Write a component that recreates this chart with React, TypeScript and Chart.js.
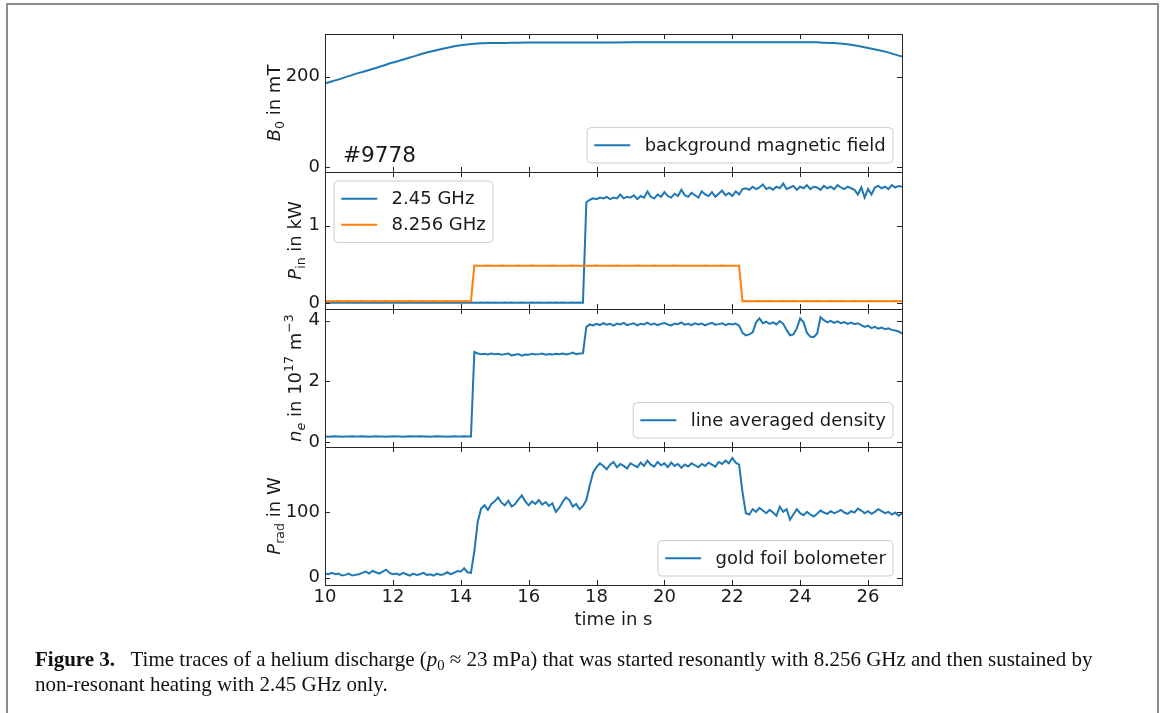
import React, { useEffect, useRef } from 'react';
import { Chart, registerables } from 'chart.js';
Chart.register(...registerables);

// ---------------- data ----------------
const TIME = [
  10.0, 10.1, 10.2, 10.3, 10.4, 10.5, 10.6, 10.7, 10.8, 10.9,
  11.0, 11.1, 11.2, 11.3, 11.4, 11.5, 11.6, 11.7, 11.8, 11.9,
  12.0, 12.1, 12.2, 12.3, 12.4, 12.5, 12.6, 12.7, 12.8, 12.9,
  13.0, 13.1, 13.2, 13.3, 13.4, 13.5, 13.6, 13.7, 13.8, 13.9,
  14.0, 14.1, 14.2, 14.3, 14.4, 14.5, 14.6, 14.7, 14.8, 14.9,
  15.0, 15.1, 15.2, 15.3, 15.4, 15.5, 15.6, 15.7, 15.8, 15.9,
  16.0, 16.1, 16.2, 16.3, 16.4, 16.5, 16.6, 16.7, 16.8, 16.9,
  17.0, 17.1, 17.2, 17.3, 17.4, 17.5, 17.6, 17.7, 17.8, 17.9,
  18.0, 18.1, 18.2, 18.3, 18.4, 18.5, 18.6, 18.7, 18.8, 18.9,
  19.0, 19.1, 19.2, 19.3, 19.4, 19.5, 19.6, 19.7, 19.8, 19.9,
  20.0, 20.1, 20.2, 20.3, 20.4, 20.5, 20.6, 20.7, 20.8, 20.9,
  21.0, 21.1, 21.2, 21.3, 21.4, 21.5, 21.6, 21.7, 21.8, 21.9,
  22.0, 22.1, 22.2, 22.3, 22.4, 22.5, 22.6, 22.7, 22.8, 22.9,
  23.0, 23.1, 23.2, 23.3, 23.4, 23.5, 23.6, 23.7, 23.8, 23.9,
  24.0, 24.1, 24.2, 24.3, 24.4, 24.5, 24.6, 24.7, 24.8, 24.9,
  25.0, 25.1, 25.2, 25.3, 25.4, 25.5, 25.6, 25.7, 25.8, 25.9,
  26.0, 26.1, 26.2, 26.3, 26.4, 26.5, 26.6, 26.7, 26.8, 26.9,
  27.0,
];

const B0_TIME = [10, 10.5, 11, 11.5, 12, 12.5, 13, 13.5, 14, 14.5, 15, 15.5, 16, 17, 18, 19, 20, 21, 22, 23, 24, 24.5, 25, 25.5, 26, 26.5, 27];
const B0_MT = [185, 196, 208, 219, 231, 242, 253, 262, 269, 273, 274, 274.5, 275, 275, 275, 275.5, 275.5, 276, 276, 276, 276, 275.5, 274, 270, 263, 255, 244];

const PIN_245_KW = [
  0.01, 0.012, 0.01, 0.011, 0.01, 0.012, 0.01, 0.01, 0.011, 0.01,
  0.01, 0.011, 0.01, 0.012, 0.01, 0.01, 0.011, 0.01, 0.012, 0.01,
  0.011, 0.01, 0.01, 0.012, 0.01, 0.011, 0.01, 0.01, 0.012, 0.01,
  0.01, 0.011, 0.01, 0.01, 0.012, 0.01, 0.011, 0.01, 0.01, 0.012,
  0.01, 0.011, 0.01, 0.012, 0.01, 0.01, 0.011, 0.01, 0.012, 0.01,
  0.011, 0.01, 0.01, 0.012, 0.01, 0.011, 0.01, 0.01, 0.012, 0.01,
  0.01, 0.011, 0.01, 0.012, 0.01, 0.01, 0.011, 0.01, 0.012, 0.01,
  0.011, 0.01, 0.01, 0.012, 0.01, 0.011, 0.01, 1.30, 1.33, 1.35,
  1.34, 1.36, 1.35, 1.37, 1.34, 1.36, 1.35, 1.40, 1.35, 1.37,
  1.36, 1.39, 1.34, 1.38, 1.36, 1.44, 1.37, 1.35, 1.40, 1.37,
  1.43, 1.38, 1.36, 1.41, 1.38, 1.46, 1.39, 1.37, 1.42, 1.39,
  1.36, 1.44, 1.40, 1.38, 1.43, 1.37, 1.41, 1.45, 1.39, 1.42,
  1.38, 1.44, 1.40, 1.47, 1.48, 1.46, 1.50, 1.47, 1.49, 1.53,
  1.47, 1.49, 1.46, 1.50, 1.48, 1.54, 1.47, 1.49, 1.51, 1.46,
  1.50, 1.48, 1.52, 1.47, 1.50, 1.49, 1.46, 1.51, 1.48, 1.50,
  1.47, 1.52, 1.49, 1.47, 1.50, 1.48, 1.46, 1.40, 1.49, 1.36,
  1.47, 1.40, 1.49, 1.51, 1.48, 1.50, 1.47, 1.52, 1.49, 1.51,
  1.50,
];

const PIN_8256_KW = [
  0.03, 0.032, 0.03, 0.029, 0.031, 0.03, 0.03, 0.032, 0.03, 0.029,
  0.03, 0.031, 0.03, 0.03, 0.029, 0.031, 0.03, 0.03, 0.032, 0.03,
  0.03, 0.029, 0.031, 0.03, 0.03, 0.032, 0.03, 0.029, 0.03, 0.031,
  0.03, 0.03, 0.031, 0.029, 0.03, 0.03, 0.032, 0.03, 0.03, 0.029,
  0.03, 0.031, 0.03, 0.03, 0.487, 0.485, 0.486, 0.484, 0.487, 0.485,
  0.486, 0.485, 0.487, 0.484, 0.486, 0.485, 0.486, 0.487, 0.485, 0.484,
  0.486, 0.487, 0.485, 0.486, 0.484, 0.486, 0.485, 0.487, 0.486, 0.485,
  0.485, 0.486, 0.484, 0.487, 0.485, 0.486, 0.485, 0.484, 0.486, 0.485,
  0.487, 0.485, 0.486, 0.484, 0.486, 0.485, 0.487, 0.485, 0.486, 0.484,
  0.486, 0.485, 0.487, 0.486, 0.484, 0.485, 0.486, 0.487, 0.485, 0.486,
  0.485, 0.486, 0.484, 0.487, 0.485, 0.486, 0.485, 0.484, 0.486, 0.485,
  0.486, 0.485, 0.487, 0.484, 0.486, 0.485, 0.486, 0.487, 0.485, 0.484,
  0.486, 0.485, 0.484, 0.03, 0.031, 0.03, 0.03, 0.029, 0.031, 0.03,
  0.03, 0.032, 0.03, 0.029, 0.03, 0.031, 0.03, 0.03, 0.032, 0.03,
  0.029, 0.03, 0.031, 0.03, 0.03, 0.032, 0.03, 0.029, 0.03, 0.031,
  0.03, 0.03, 0.031, 0.029, 0.03, 0.03, 0.032, 0.03, 0.03, 0.029,
  0.03, 0.031, 0.03, 0.03, 0.029, 0.031, 0.03, 0.03, 0.032, 0.03,
  0.03,
];

const NE_1E17 = [
  0.18, 0.17, 0.18, 0.19, 0.18, 0.17, 0.18, 0.18, 0.19, 0.18,
  0.18, 0.19, 0.18, 0.17, 0.18, 0.19, 0.18, 0.18, 0.17, 0.18,
  0.19, 0.18, 0.18, 0.17, 0.18, 0.19, 0.18, 0.18, 0.19, 0.18,
  0.18, 0.17, 0.18, 0.19, 0.18, 0.18, 0.17, 0.18, 0.19, 0.18,
  0.18, 0.19, 0.18, 0.18, 2.97, 2.92, 2.90, 2.91, 2.89, 2.92,
  2.90, 2.91, 2.88, 2.90, 2.92, 2.86, 2.88, 2.90, 2.85, 2.89,
  2.88, 2.91, 2.89, 2.90, 2.92, 2.88, 2.90, 2.89, 2.91, 2.90,
  2.92, 2.89, 2.91, 2.95, 2.90, 2.92, 2.93, 3.80, 3.88, 3.85,
  3.90, 3.86, 3.92, 3.87, 3.90, 3.84, 3.91, 3.88, 3.93, 3.86,
  3.89, 3.92, 3.85, 3.90, 3.88, 3.94, 3.87, 3.91, 3.86, 3.90,
  3.93, 3.88, 3.85, 3.91, 3.89, 3.95, 3.87, 3.90, 3.86, 3.92,
  3.88, 3.91, 3.85, 3.90, 3.93, 3.87, 3.89, 3.92, 3.86, 3.90,
  3.88, 3.91, 3.84, 3.60, 3.52, 3.55, 3.62, 3.95, 4.08, 3.92,
  3.97, 3.90, 3.95, 3.88, 3.99, 3.90, 3.70, 3.52, 3.55, 3.75,
  4.08, 3.95, 3.60, 3.48, 3.46, 3.58, 4.12, 4.02, 3.95, 4.00,
  3.93, 3.98, 3.92, 3.96, 3.90, 3.94, 3.89, 3.92, 3.86, 3.80,
  3.84, 3.76, 3.80, 3.74, 3.78, 3.72, 3.75, 3.70, 3.68, 3.65,
  3.58,
];

const PRAD_W = [
  6, 5, 7, 5, 6, 3, 4, 6, 3, 4,
  5, 7, 9, 6, 10, 8, 6, 9, 12, 7,
  5, 6, 4, 7, 5, 3, 6, 4, 5, 7,
  4, 5, 3, 6, 4, 5, 8, 5, 7, 10,
  9, 14, 8, 7, 40, 85, 105, 110, 103, 112,
  116, 122, 114, 110, 117, 108, 112, 119, 125, 116,
  110, 116, 112, 118, 111, 115, 109, 113, 100, 106,
  115, 122, 118, 108, 112, 104, 109, 118, 140, 160,
  168, 174, 170, 165, 172, 176, 168, 173, 170, 166,
  174, 171, 168, 175, 170, 178, 172, 169, 176, 171,
  174, 168, 175, 170, 173, 167, 172, 169, 174, 171,
  168, 173, 170, 175, 172, 169, 176, 173, 178, 174,
  182, 175, 172, 130, 98, 96, 104, 100, 106, 102,
  98, 103, 99, 94, 108, 100, 104, 88, 96, 104,
  98, 95, 100, 96, 93, 97, 102, 99, 97, 101,
  98, 100, 103, 99, 97, 101, 99, 105, 102, 98,
  101, 97, 100, 104, 101, 98, 100, 96, 99, 94,
  98,
];

const X_TICKS = [10, 12, 14, 16, 18, 20, 22, 24, 26];
const B0_TICKS = [0, 200];
const PIN_TICKS = [0, 1];
const NE_TICKS = [0, 2, 4];
const PRAD_TICKS = [0, 100];

const SHOT_LABEL = '#9778';
const X_TITLE = 'time in s';

// ---------------- styling / layout ----------------
const BLUE = '#1f77b4';
const ORANGE = '#ff7f0e';
const TEXT = '#1a1a1a';
const FONT = '"DejaVu Sans", sans-serif';
const FS = 18;
const W = 1165;
const AREA_LEFT = 325;
const AREA_RIGHT = 902;
const EDGES = [34, 172, 309, 447, 585];
const PAD = 30;

type Seg = { t: string; it?: boolean; sub?: boolean; sup?: boolean };
type Series = { x: number[]; y: number[]; color: string; label: string; smooth?: boolean; order: number };
type PanelDef = {
  series: Series[];
  yMin: number;
  yMax: number;
  yTicks: number[];
  legend: 'ul' | 'lr';
  title: Seg[];
  titleX: number;
  showX: boolean;
  extra?: (ctx: CanvasRenderingContext2D, a: any) => void;
};

const PANELS: PanelDef[] = [
  {
    series: [{ x: B0_TIME, y: B0_MT, color: BLUE, label: 'background magnetic field', smooth: true, order: 1 }],
    yMin: -11, yMax: 294, yTicks: B0_TICKS, legend: 'lr',
    title: [{ t: 'B', it: true }, { t: '0', sub: true }, { t: ' in mT' }],
    titleX: 280, showX: false,
    extra: (ctx, a) => {
      ctx.font = `21.6px ${FONT}`;
      ctx.fillStyle = TEXT;
      ctx.textAlign = 'left';
      ctx.textBaseline = 'alphabetic';
      ctx.fillText(SHOT_LABEL, 343, a.top + (162 - 34));
    },
  },
  {
    series: [
      { x: TIME, y: PIN_245_KW, color: BLUE, label: '2.45 GHz', order: 2 },
      { x: TIME, y: PIN_8256_KW, color: ORANGE, label: '8.256 GHz', order: 1 },
    ],
    yMin: -0.071, yMax: 1.689, yTicks: PIN_TICKS, legend: 'ul',
    title: [{ t: 'P', it: true }, { t: 'in', sub: true }, { t: ' in kW' }],
    titleX: 301, showX: false,
  },
  {
    series: [{ x: TIME, y: NE_1E17, color: BLUE, label: 'line averaged density', order: 1 }],
    yMin: -0.166, yMax: 4.39, yTicks: NE_TICKS, legend: 'lr',
    title: [
      { t: 'n', it: true }, { t: 'e', it: true, sub: true }, { t: ' in 10' }, { t: '17', sup: true },
      { t: ' m' }, { t: '\u22123', sup: true },
    ],
    titleX: 301, showX: false,
  },
  {
    series: [{ x: TIME, y: PRAD_W, color: BLUE, label: 'gold foil bolometer', order: 1 }],
    yMin: -11.4, yMax: 198.8, yTicks: PRAD_TICKS, legend: 'lr',
    title: [{ t: 'P', it: true }, { t: 'rad', sub: true }, { t: ' in W' }],
    titleX: 280, showX: true,
    extra: (ctx, a) => {
      ctx.font = `${FS}px ${FONT}`;
      ctx.fillStyle = TEXT;
      ctx.textAlign = 'center';
      ctx.textBaseline = 'alphabetic';
      ctx.fillText(X_TITLE, (a.left + a.right) / 2, a.bottom + (625 - 585));
    },
  },
];

function drawRich(ctx: CanvasRenderingContext2D, segs: Seg[], x: number, cy: number) {
  const fontFor = (s: Seg) => `${s.it ? 'italic ' : ''}${s.sub || s.sup ? FS * 0.7 : FS}px ${FONT}`;
  let total = 0;
  const widths = segs.map((s) => {
    ctx.font = fontFor(s);
    const w = ctx.measureText(s.t).width;
    total += w;
    return w;
  });
  ctx.save();
  ctx.translate(x, cy);
  ctx.rotate(-Math.PI / 2);
  ctx.fillStyle = TEXT;
  ctx.textAlign = 'left';
  ctx.textBaseline = 'alphabetic';
  let cx = -total / 2;
  segs.forEach((s, i) => {
    ctx.font = fontFor(s);
    const dy = s.sub ? FS * 0.2 : s.sup ? -FS * 0.42 : 0;
    ctx.fillText(s.t, cx, dy);
    cx += widths[i];
  });
  ctx.restore();
}

function drawLegend(ctx: CanvasRenderingContext2D, a: any, items: Series[], corner: 'ul' | 'lr') {
  const pad = 7.2, handle = 36, gap = 14.4, axPad = 9, rowH = 21, spacing = 5;
  ctx.font = `${FS}px ${FONT}`;
  const tw = Math.max(...items.map((s) => ctx.measureText(s.label).width));
  const bw = pad + handle + gap + tw + pad;
  const bh = pad * 2 + items.length * rowH + (items.length - 1) * spacing;
  const x0 = corner === 'ul' ? a.left + axPad : a.right - axPad - bw;
  const y0 = corner === 'ul' ? a.top + axPad : a.bottom - axPad - bh;
  ctx.save();
  ctx.beginPath();
  const r = 4;
  ctx.moveTo(x0 + r, y0);
  ctx.arcTo(x0 + bw, y0, x0 + bw, y0 + bh, r);
  ctx.arcTo(x0 + bw, y0 + bh, x0, y0 + bh, r);
  ctx.arcTo(x0, y0 + bh, x0, y0, r);
  ctx.arcTo(x0, y0, x0 + bw, y0, r);
  ctx.closePath();
  ctx.fillStyle = 'rgba(255,255,255,0.8)';
  ctx.fill();
  ctx.strokeStyle = '#cccccc';
  ctx.lineWidth = 1;
  ctx.stroke();
  items.forEach((s, k) => {
    const cy = y0 + pad + rowH / 2 + k * (rowH + spacing);
    ctx.beginPath();
    ctx.moveTo(x0 + pad, cy);
    ctx.lineTo(x0 + pad + handle, cy);
    ctx.strokeStyle = s.color;
    ctx.lineWidth = 2;
    ctx.stroke();
    ctx.fillStyle = TEXT;
    ctx.textAlign = 'left';
    ctx.textBaseline = 'middle';
    ctx.font = `${FS}px ${FONT}`;
    ctx.fillText(s.label, x0 + pad + handle + gap, cy + 1);
  });
  ctx.restore();
}

function makeChart(canvas: HTMLCanvasElement, def: PanelDef, bottomPad: number) {
  const decor = {
    id: 'decor',
    afterDatasetsDraw(chart: any) {
      const { ctx, chartArea: a, scales } = chart;
      ctx.save();
      ctx.strokeStyle = '#262626';
      ctx.lineWidth = 1;
      ctx.strokeRect(a.left + 0.5, a.top + 0.5, a.right - a.left, a.bottom - a.top);
      ctx.beginPath();
      const tl = 5;
      scales.x.ticks.forEach((t: any) => {
        const px = Math.round(scales.x.getPixelForValue(t.value)) + 0.5;
        ctx.moveTo(px, a.top);
        ctx.lineTo(px, a.top + tl);
        ctx.moveTo(px, a.bottom);
        ctx.lineTo(px, a.bottom - tl);
      });
      scales.y.ticks.forEach((t: any) => {
        const py = Math.round(scales.y.getPixelForValue(t.value)) + 0.5;
        ctx.moveTo(a.left, py);
        ctx.lineTo(a.left + tl, py);
        ctx.moveTo(a.right, py);
        ctx.lineTo(a.right - tl, py);
      });
      ctx.stroke();
      ctx.restore();
      drawLegend(ctx, a, def.series, def.legend);
      drawRich(ctx, def.title, def.titleX, (a.top + a.bottom) / 2);
      if (def.extra) {
        ctx.save();
        def.extra(ctx, a);
        ctx.restore();
      }
    },
  };

  return new Chart(canvas, {
    type: 'line',
    data: {
      datasets: def.series.map((s) => ({
        label: s.label,
        data: s.x.map((t, i) => ({ x: t, y: s.y[i] })),
        borderColor: s.color,
        backgroundColor: s.color,
        borderWidth: 2,
        pointRadius: 0,
        fill: false,
        order: s.order,
        tension: 0,
        cubicInterpolationMode: s.smooth ? 'monotone' : 'default',
      })),
    },
    options: {
      responsive: false,
      animation: false,
      events: [],
      layout: { padding: { top: PAD, left: 0, right: W - AREA_RIGHT, bottom: bottomPad } },
      plugins: { legend: { display: false }, tooltip: { enabled: false }, title: { display: false } },
      scales: {
        x: {
          type: 'linear',
          min: 10,
          max: 27,
          display: def.showX,
          afterBuildTicks: (s: any) => { s.ticks = X_TICKS.map((v) => ({ value: v })); },
          afterFit: (s: any) => { s.height = def.showX ? 45 : 0; },
          grid: { display: false, drawTicks: false },
          border: { display: false },
          ticks: { font: { family: FONT, size: FS }, color: TEXT, padding: 2, maxRotation: 0, autoSkip: false },
        },
        y: {
          type: 'linear',
          min: def.yMin,
          max: def.yMax,
          afterBuildTicks: (s: any) => { s.ticks = def.yTicks.map((v) => ({ value: v })); },
          afterFit: (s: any) => { s.width = AREA_LEFT; },
          grid: { display: false, drawTicks: false },
          border: { display: false },
          ticks: { font: { family: FONT, size: FS }, color: TEXT, padding: 5 },
        },
      },
    },
    plugins: [decor],
  } as any);
}

export default function App() {
  const refs = [useRef<HTMLCanvasElement>(null), useRef<HTMLCanvasElement>(null), useRef<HTMLCanvasElement>(null), useRef<HTMLCanvasElement>(null)];

  const geom = PANELS.map((p, i) => {
    const top = EDGES[i] - PAD;
    const h = EDGES[i + 1] - EDGES[i];
    const bottomPad = p.showX ? 15 : PAD;
    const height = PAD + h + (p.showX ? 45 : 0) + bottomPad;
    return { top, height, bottomPad };
  });

  useEffect(() => {
    const charts = PANELS.map((p, i) => makeChart(refs[i].current as HTMLCanvasElement, p, geom[i].bottomPad));
    return () => charts.forEach((c) => c.destroy());
  }, []);

  return (
    <div style={{ position: 'fixed', left: 0, top: 0, width: W, height: 713, overflow: 'hidden', background: '#fff' }}>
      <div style={{ position: 'absolute', left: 6, top: 3, width: 1153, height: 760, border: '2px solid #8c8c8c', boxSizing: 'border-box' }} />
      {PANELS.map((p, i) => (
        <canvas
          key={i}
          ref={refs[i]}
          width={W}
          height={geom[i].height}
          style={{ position: 'absolute', left: 0, top: geom[i].top, width: W, height: geom[i].height }}
        />
      ))}
      <div
        style={{
          position: 'absolute',
          left: 35,
          top: 648,
          fontFamily: '"Liberation Serif", serif',
          fontSize: 21,
          lineHeight: '23px',
          color: '#111',
          whiteSpace: 'nowrap',
        }}
      >
        <div>
          <b>Figure 3.</b>
          {'\u2002 '}Time traces of a helium discharge (<i>p</i>
          <span style={{ fontSize: '0.7em', position: 'relative', top: '0.3em' }}>0</span> ≈ 23 mPa) that was started resonantly with 8.256 GHz and then sustained by
        </div>
        <div>non-resonant heating with 2.45 GHz only.</div>
      </div>
    </div>
  );
}
